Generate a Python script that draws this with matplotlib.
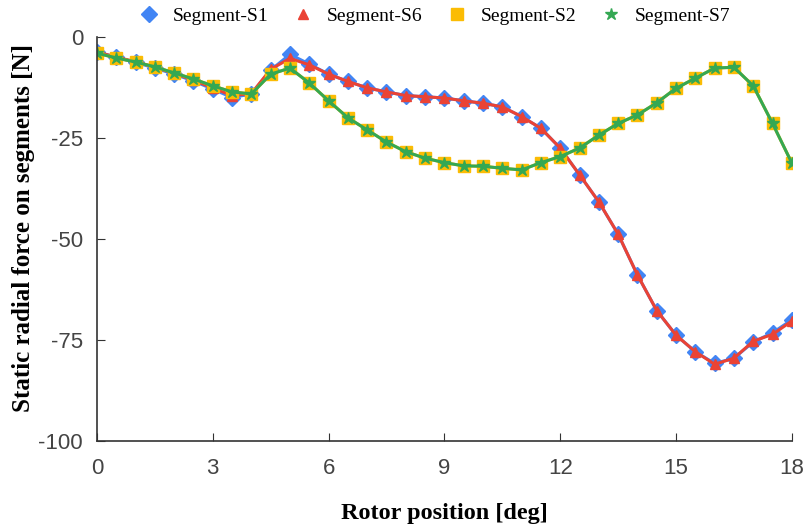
import numpy as np
import matplotlib.pyplot as plt

plt.rcParams['axes.unicode_minus'] = False

# rotor position (deg)
pos = np.arange(0, 18.01, 0.5)

seg_s1 = [-3.7, -5.0, -6.3, -7.7, -9.2, -10.9, -12.9, -15.0, -14.1, -8.2, -4.3, -6.7, -9.2,
          -11.0, -12.6, -13.6, -14.5, -14.8, -15.1, -15.8, -16.4, -17.3, -19.7, -22.6, -27.5,
          -34.1, -40.8, -48.8, -58.9, -67.7, -73.8, -77.9, -80.8, -79.5, -75.5, -73.2, -70.0]
seg_s6 = [-3.7, -5.0, -6.1, -7.5, -9.0, -10.7, -12.6, -14.5, -14.0, -8.0, -5.3, -6.9, -9.2,
          -11.0, -12.6, -13.6, -14.5, -14.8, -15.1, -15.8, -16.4, -17.3, -19.7, -22.6, -27.5,
          -34.1, -40.8, -48.8, -58.9, -67.7, -73.8, -77.9, -81.0, -79.5, -75.3, -73.6, -70.3]
seg_s2 = [-4.0, -5.2, -6.2, -7.4, -8.9, -10.4, -12.1, -13.6, -14.1, -9.2, -7.7, -11.4, -15.8,
          -20.0, -23.0, -26.0, -28.4, -30.0, -31.1, -31.9, -32.0, -32.5, -32.9, -31.1, -29.6,
          -27.5, -24.3, -21.4, -19.3, -16.3, -12.7, -10.2, -7.7, -7.5, -12.1, -21.4, -31.2]
seg_s7 = seg_s2

fig, ax = plt.subplots(figsize=(8.08, 5.32), dpi=100)
fig.subplots_adjust(left=0.120, right=0.980, top=0.9305, bottom=0.171)

ax.plot(pos, seg_s1, color='#4285F4', lw=2.2, marker='D', ms=8, label='Segment-S1')
ax.plot(pos, seg_s6, color='#EA4335', lw=2.2, marker='^', ms=7, label='Segment-S6')
ax.plot(pos, seg_s2, color='#FBBC04', lw=2.2, marker='s', ms=8, label='Segment-S2')
ax.plot(pos, seg_s7, color='#34A853', lw=2.2, marker='*', ms=9, label='Segment-S7')

ax.set_xlim(0, 18)
ax.set_ylim(-100, 0)
ax.set_xticks(range(0, 19, 3))
ax.set_yticks([0, -25, -50, -75, -100])
ax.tick_params(direction='in', length=6, color='#333333', labelsize=16)
ax.tick_params(axis='x', pad=12)
ax.tick_params(axis='y', pad=10)
for lbl in ax.get_xticklabels() + ax.get_yticklabels():
    lbl.set_family('Liberation Sans')
    lbl.set_color('#444444')
ax.spines[['top', 'right']].set_visible(False)
ax.spines[['left', 'bottom']].set_color('#333333')
ax.spines[['left', 'bottom']].set_linewidth(1.2)

ax.set_xlabel('Rotor position [deg]', family='Liberation Serif', fontweight='bold',
              fontsize=17.5)
ax.xaxis.set_label_coords(0.5, -0.18)
ax.xaxis.label.set_va('center')
ax.set_ylabel('Static radial force on segments [N]', family='Liberation Serif',
              fontweight='bold', fontsize=18)
ax.yaxis.set_label_coords(-0.105, 0.527)
ax.yaxis.label.set_va('center')

leg = ax.legend(loc='center', bbox_to_anchor=(0.486, 1.052), ncol=4, frameon=False,
                prop={'family': 'Liberation Serif', 'size': 14}, handlelength=1,
                handletextpad=0.7, columnspacing=1.3, borderaxespad=0, borderpad=0)
for h in leg.legend_handles:
    h.set_linestyle('')

plt.savefig('out.png')
